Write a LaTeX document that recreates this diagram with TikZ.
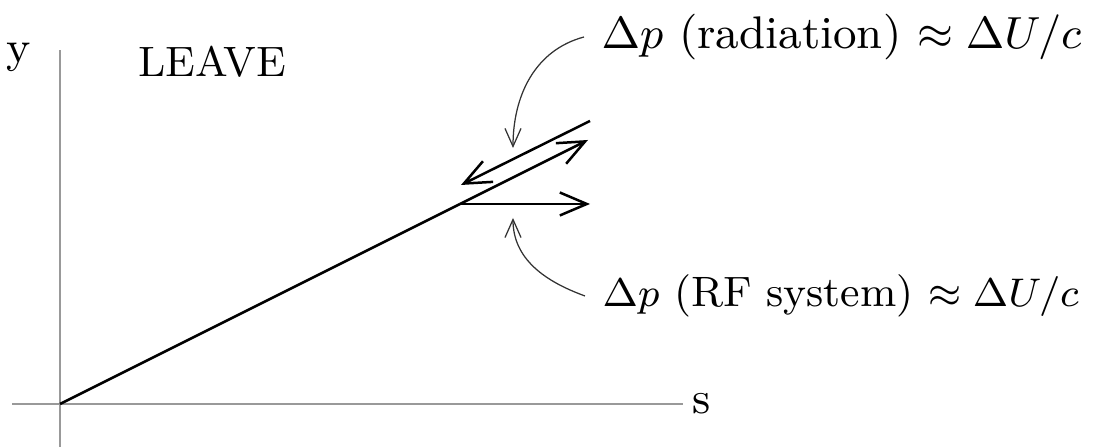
\documentclass[tikz,border=0pt]{standalone}
\usetikzlibrary{arrows.meta}
\begin{document}
\begin{tikzpicture}[x=0.2pt,y=-0.2pt,
  every node/.style={font=\fontsize{9pt}{11pt}\selectfont},
  axisline/.style={draw=black!40, line width=0.4pt},
  vec/.style={line width=0.5pt},
  bighead/.style={-{Straight Barb[length=5.4pt,width=4.6pt,line width=0.5pt]}},
  thinarrow/.style={draw=black!80, line width=0.25pt,
    -{Straight Barb[length=3.6pt,width=3.2pt,line width=0.25pt]}}
]
\useasboundingbox (0,0) rectangle (1094,447);
% axes
\coordinate (O) at (60,404);
\coordinate (ytop) at (60,50);
\coordinate (ybot) at (60,447);
\coordinate (xl) at (12,404);
\coordinate (xr) at (683,404);
\draw[axisline] (ybot) -- (ytop);
\draw[axisline] (xl) -- (xr);
\node (s) at (702,404) {s};
\node (y) at (19,57) {y};
\node[anchor=west,font=\fontsize{8.5pt}{11pt}\selectfont] (leave) at (121,62) {LEAVE};
% trajectory and vectors
\coordinate (K) at (460,204);
\coordinate (P) at (588,140);
\coordinate (R1) at (590,121);
\coordinate (R2) at (461,185);
\coordinate (H) at (590,204);
\draw[vec] (O) -- (K);
\draw[vec,bighead] (K) -- (P);
\draw[vec,bighead] (R1) -- (R2);
\draw[vec,bighead] (K) -- (H);
% labels
\node[anchor=west,font=\fontsize{9.15pt}{11pt}\selectfont] (rad) at (584,37) {$\Delta p$ (radiation) $\approx \Delta U/c$};
\node[anchor=west,font=\fontsize{8.5pt}{11pt}\selectfont] (rf) at (585,296) {$\Delta p$ (RF system) $\approx \Delta U/c$};
\coordinate (t1) at (513,148);
\coordinate (t2) at (513,218);
\draw[thinarrow] (rad.west) to[out=195,in=90] (t1);
\draw[thinarrow] (rf.west) to[out=160,in=-90] (t2);
\end{tikzpicture}
\end{document}
